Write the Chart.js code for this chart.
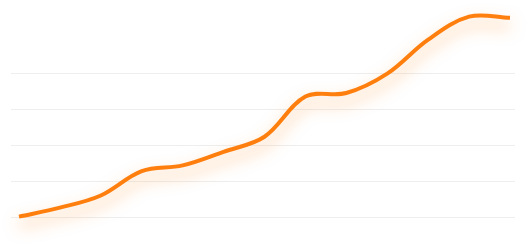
<!DOCTYPE html>
<html>
<head>
<meta charset="utf-8">
<script src="https://cdn.jsdelivr.net/npm/chart.js@4"></script>
<style>
  html, body { margin: 0; padding: 0; background: #fff; }
  #wrap { width: 529px; height: 250px; }
</style>
</head>
<body>
<div id="wrap"><canvas id="myChart"></canvas></div>
<script>
// values
const labels = ['1', '2', '3', '4', '5', '6', '7', '8', '9', '10', '11', '12', '13'];
const values = [0.1, 2.6, 6.0, 12.8, 14.4, 18.2, 22.4, 33.6, 34.6, 40.0, 49.5, 55.9, 55.6];
const yTicks = [0, 10, 20, 30, 40];

// soft orange glow under the line
const glow = {
    id: 'glow',
    beforeDatasetDraw(chart) {
        const ctx = chart.ctx;
        ctx.save();
        ctx.shadowColor = 'rgba(255, 127, 14, 0.5)';
        ctx.shadowBlur = 16;
        ctx.shadowOffsetY = 8;
    },
    afterDatasetDraw(chart) {
        chart.ctx.restore();
    }
};

function useTicks(scale) {
    scale.ticks = yTicks.map(function (v) { return { value: v }; });
}

const gridStyle = { color: '#eeeeee', lineWidth: 1, drawTicks: true };

const ctx = document.getElementById('myChart').getContext('2d');
const myChart = new Chart(ctx, {
    type: 'line',
    data: {
        labels: labels,
        datasets: [{
            data: values,
            borderColor: '#ff7f0e',
            borderWidth: 4,
            tension: 0.35,
            pointRadius: 0,
            fill: false,
            clip: false
        }]
    },
    plugins: [glow],
    options: {
        responsive: true,
        maintainAspectRatio: false,
        animation: false,
        layout: { padding: { left: 11, right: 14, top: 2, bottom: 33 } },
        plugins: { legend: { display: false }, tooltip: { enabled: false } },
        scales: {
            x: { display: false },
            y: {
                min: 0,
                max: 60,
                afterBuildTicks: useTicks,
                ticks: { display: false },
                border: { display: false },
                grid: Object.assign({}, gridStyle, { tickLength: 8 })
            },
            y2: {
                position: 'right',
                display: true,
                min: 0,
                max: 60,
                afterBuildTicks: useTicks,
                ticks: { display: false },
                border: { display: false },
                grid: Object.assign({}, gridStyle, { tickLength: 5 })
            }
        }
    }
});
</script>
</body>
</html>
